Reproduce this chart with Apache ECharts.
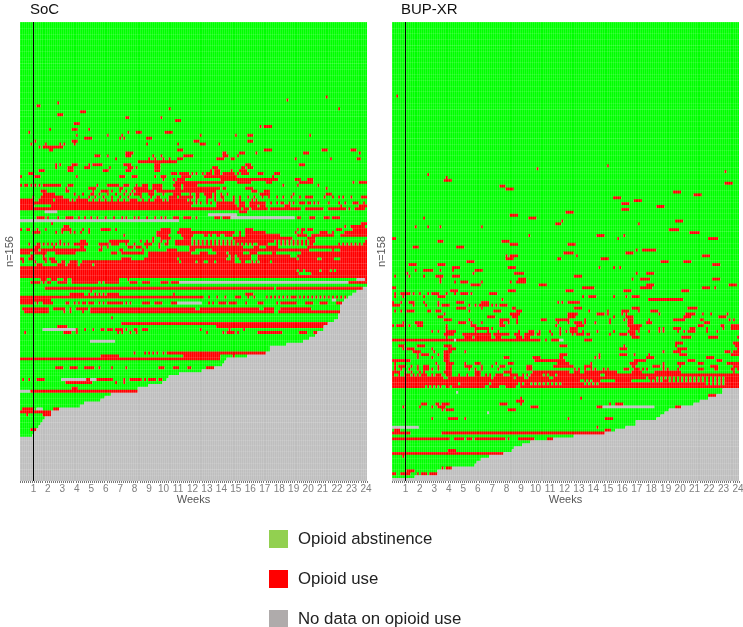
<!DOCTYPE html>
<html>
<head>
<meta charset="utf-8">
<style>html,body{margin:0;padding:0;background:#fff}#chart{width:743px;height:627px}</style>
<script src="https://cdn.jsdelivr.net/npm/echarts@6/dist/echarts.min.js"></script>
</head>
<body>
<div id="chart"></div>
<script>
var dayCount = 168;
var weekLabels = ['1','2','3','4','5','6','7','8','9','10','11','12','13','14','15','16','17','18','19','20','21','22','23','24'];
var legendNames = ['Opioid abstinence','Opioid use','No data on opioid use'];
var cellColors = ['#00ff00','#ff0000','#bebebe'];

// last observed day per participant, listed from the first row that stops early
var socRows = 156;
var socFirstEarly = 90;
var socLastDay = [166,163,161,159,157,156,155,155,155,154,154,152,149,147,147,144,143,140,137,129,121,121,119,110,100,99,98,94,88,77,72,71,69,62,57,57,44,41,39,31,29,19,15,15,12,11,10,9,8,7,6,0,0,0,0,0,0,0,0,0,0,0,0,0,0,0];
var bupRows = 158;
var bupFirstEarly = 126;
var bupLastDay = [160,160,157,153,149,146,140,134,132,130,128,118,118,113,108,103,88,78,67,63,59,58,54,47,43,41,40,29,22,22,11,0];

// [row, days with opioid use]
var socUse = [
[25,'148'],[26,'129'],[27,'18'],[28,'8-9'],[29,'72 154'],[30,'29-31'],[31,'18-20'],[32,'51-52 68'],[33,'75-77'],[34,'26-28'],
[35,'116 118-121'],[36,'14 25-27 33'],[37,'4 52 56-58 70-73'],[38,'27 42 49 87 104 110-112 140'],[39,'31-34 48 50 61-63'],
[40,'7 25-27 84-86 110-112'],[41,'5 12 19 21 26 61 76 87-89 96'],[42,'9 11-20'],[43,'14-15 76-78 118-121 146-148 160-162'],
[44,'51-54 98-99 106-108 114 137-139 164'],[45,'36-38 42 51-53 64 68 79-83 98-100 105'],[46,'46 62 65 69 72 76-78 95-98 102-103 133 150 163-164'],
[47,'57-75'],[48,'17 19 25-27 33 35-39 50-53 65-67 109-111 135-137'],[49,'17 23-25 31-33 43 52-54 56 65-67 93-95 107-108 110-112'],
[50,'9-11 23-25 40-42 51-53 65-67 92 94-96 102 106-109'],[51,'4-6 73-75 77-81 83 85 88 90-92 94-96 98-103 105 107-110 115-117 123-125'],
[52,'0 7-9 27 48-50 54-56 65 68-70 78-82 89-104 122'],[53,'69 74 76-79 97-124 133-135 139-141'],
[54,'75-98 105-107 108-111 119-121 135-138 139-141 161 164-167'],[55,'0 2-3 5 7 9 11-19 23-25 37 42-47 50-52 56 59-61 64-68 74-77 79-85 127 134 144'],
[56,'22 33-36 48-49 55-61 64-68 75-77 79-96 98-99 109-112 148'],[57,'10-12 22-23 35 39-42 44 48 51 54 56-64 66-94 112-114 118-120'],
[58,'11-16 26 30 34-35 38 42 46 50 53 55-58 62-64 69 74-77 82 85-86 89-92 94 97 100 116-120 132 148-150'],
[59,'6 10-20 28 33 36 40 44 48 52 58 63 66-67 72-75 77-83 85-86 90-92 94 97-98 103 106 110 113 117 120 124 127 131 135 138-141 147 151 154 156 160 165-167'],
[60,'0-6 9-15 17-23 25 27-32 35 38 41 44 47 50 53-56 59 62 65-68 70 72-80 82 85 90 94 98 103 106 112 114'],
[61,'0-83 85 87 90 92 95-103 106-108 111-118 121 124 126-127 130 132 135-137 139-140 142 144 149 154 157 161-163 166'],
[62,'0-6 15-82 95-104 106-108 111-114 116-118 128-130 155 164-167'],[63,'0-106 108-110 112-119 121-135 138-146 149-157 159 162-166'],[64,'106-109'],
[66,'8-11 13 18 22-25 28 31 34 37 41 45 49 51 55 57 61 65 68 70 74-76 79-82 85 94-96 98-101 134-135 140-142 147-149 151-154'],
[68,'15 165-167'],[69,'21-23 157 160-166'],[70,'0 3-4 8 12 20-24 30 33 39-43 46 68-72 77-82 109-112 134 136-137 139-141 153-155 161-167'],
[71,'6-9 17 20 24 26 29 33 66-72 76-103 106 109-118 133 136 145-148 151 157-167'],[72,'50 66-71 78-83 89-90 92 95-96 99-102 106 109-125 134-138 141-151 155-167'],
[73,'64 68-72 79-82 103-131 139-142'],
[74,'19 29-31 43-52 58 61 64 68 71 75-82 84 86 88 90 92 94 96 98 100 102 104-122 124 126 128 130 132 134 136 138 140-142 167'],
[75,'4 8-9 11 13 15 17 19 21 23 26-32 38-42 44-47 51 55 60-63 67 70-71 75-82 84 86 88 90 92 94 96 98 100 102 104 106 108 110 112 115-119 124 126 128 130 132 134 136 138 140-141 154 156 158 160 162 164 166-167'],
[76,'7-9 16 29-30 39 42 52-54 56-58 61 67 82-107 113-115 119-124 139-167'],[77,'0-8 10-31 38-39 48-49 59 71-75 82-84 93-139 151 155-167'],
[78,'0-4 7-12 17-26 44-46 49-59 62-82 87-90 95-99 101-107 111-114 122-123 136-167'],[79,'5-6 11 62-100 102-103 105-111 115-130 134-167'],
[80,'0-1 4-6 11-12 14-16 49-53 60-75 77-99 102-103 106-111 115-133 135-143 146-151 155-167'],
[81,'1 7 12 15-17 20-21 24-27 30-76 78-82 83-84 86-88 91-93 95-103 107-108 112 114 116-120 122-167'],[82,'8-10 18-21 23-27 29-34 36-167'],
[83,'0-167'],[84,'0-133 135-136 138-144 146-149 151 153-167'],[85,'0-134 141-167'],[86,'0-167'],[87,'10-12 15-17 21-22 25-47 52 167'],
[88,'5-9 11 13-14 18-22 25-37 39 41-47 53-56 59-62 68-71 73-76 159-167'],[90,'12-122 124-165'],[91,'34'],[92,'24-30 33 36 38 40 42-47 74 109-112'],
[93,'0-88 91 95 99 104-106 110 113 119 121 123 125 127 129 131-133 135 137 139 141 143 145 147 149 151 153 155 157'],[94,'0-14'],
[95,'0-6 8 11-15 22-23 26 28 30-31 33-35 38 40 42-49 51 53 59-62 65-68 73-75 91 93 96-99 101-104 109 115-117 124 126-133 138-141 145-148 153-155'],
[97,'1-13 16-21 24 27-32 34-84 87-115 118-122 126-140'],[98,'2-13 21 24 30 34-122 125-154'],[100,'44'],[102,'49-148'],[103,'18-22 95-146'],
[104,'27 31 35 39-40 42-44 46-49 51 55-56 59-61 87 101 108'],[105,'2 21-24 27 47 49 53 56 90 98 100-103 105 115-126 135-138 142-143'],
[112,'55 60 62 64 66 69 71-118'],[113,'39-47 79-96 103'],[114,'0-96'],[117,'17-20 24-27 31-35 38 44 51 67-69 74-76 81-82 90-93'],
[121,'1 4 8-11 32-33 37-44 50 53-58 60 62-65 67-68'],[122,'22-34 46 50'],[124,'25-27'],[125,'5-56'],[131,'1-6 16-18'],[132,'0-14'],[133,'3 11-14'],[138,'5-7']
];
// [row, days without data although the participant was still enrolled]
var socMissing = [
[64,'12-17'],[65,'91-104'],[66,'102-132'],[67,'0-76'],[87,'163-166'],[88,'77-158'],[94,'151-152'],[95,'76-87'],[104,'11-26'],[108,'34-45'],[121,'20-31 34-36'],[125,'0-4'],[131,'8-10']
];
var bupUse = [
[25,'2'],[49,'104'],[50,'70'],[51,'161'],[52,'17'],[53,'26'],[54,'25-28'],[55,'161-164'],[56,'52-54'],[57,'55-58'],[58,'136-139'],[59,'146-149'],
[60,'107-110'],[61,'117-120'],[62,'111-114'],[63,'128-131'],[64,'111-114'],[65,'84-87'],[66,'57-60'],[67,'15 66-69'],[68,'82 137-140'],[69,'79-81 119'],
[70,'11 17 23 43'],[71,'134-138'],[72,'144-148'],[73,'66 99-102 112'],[74,'0-1 109 153-157'],[75,'22-24 53-56'],[76,'57-60 85-88'],[77,'10-12 31-34'],
[78,'118 121-127'],[79,'83-87 113-116'],[80,'55 57-60 89 150-153'],[81,'55-58 80-81 101-104'],[82,'36-39 130-133 141-144'],[83,'8-11 22-25 155-158'],
[84,'29-32 56-59 100 107 110'],[85,'11 15-19 23 29 40-43'],[86,'7 39 59-63 118 123-126'],[87,'1 8 15 21-24 29-32 88-91'],[88,'23 61-64 116 120-124 155-158'],
[89,'23 30 33-36 43 57 60-64'],[90,'38-42 71-74 123-126 163-166'],[91,'0-1 92-97 120-125 150-153 156'],[92,'28-31 56-59 84-87 112-115 140-143'],
[93,'1 4-8 10 13 17 19-22 26 30 33-36 38 47-50'],[94,'1 5 15 22-25 92 95-98 107 113 116-119'],[95,'53 124-140'],[96,'0 4 8-10 15 22 31-34 43-46 80 82 85-90'],
[97,'0-3 10 16 22 24-27 37 40 42-46 48 50 52-55'],[98,'31-35 43 58-59 88-91 116-119 143-147'],[99,'1 4 7-10 17-18 21-23 37 49-52 60-62 95 104 111-114 119 125-128'],
[100,'25 57-61 85-89 99-102 104 111 113 129 142-146 150 154 162'],[101,'22-24 46-49 58-60 85-88 107 113-116 141-144 158-161'],
[102,'25-28 37 52-56 60 72-74 79-85 93 105 112 114-116 124 136-141 149-150 163 165'],[103,'5 11-14 32-35 38 43 52-53 56 60 80 85 88-91 93 98 105 114-116 123-125 151-153'],
[104,'0 2-5 8 12-14 26 38-40 52-54 79 89-92 114-120 148-150 159-160 164-167'],[105,'26 40-46 48 81 86-89 115-119 129 131 136-139 144-146 152 160 164-167'],
[106,'19 22 26-30 40 46 51 61 66-68 71 76 81 84 86-89 92 99 107 114-117 119 124 129 131 138 141 143-146 152 157'],
[107,'25-29 34-47 49-56 59-61 64-68 70-71 77 81 87 89-92 94-95 105 110-113 115-117'],[108,'26 35-38 40-47 50-52 60-62 64-66 116-119 140-144 153-157 167'],
[109,'0-29 31-71 74 77-80 93-96'],[110,'137-140 165-167'],[111,'3-5 12-15 25-28 81-84 112 137 166-167'],[112,'5 7-10 19 27-30 110-113 138-142 167'],
[113,'10-13 20 25-28 35 131 136-139 161-163 165-167'],[114,'12 14-17 22 25-27 81-84 100 110-113 117 124 139-142 164-167'],
[115,'12 19 25-27 54-56 68-71 81-82 98 100 123-126 152-155'],[116,'0-8 25-27 69-83 117-122 143-146 157-159'],
[117,'1 21 26-29 35 40-42 50 56-58 80-85 96 115-118 131 138-141 148-150 162-167'],
[118,'1 3-6 9 12 15-17 22 26-28 35-38 43 48 52-54 65-67 78-87 93-96 116-117 126-129 131 139 154-157 165-167'],
[119,'1 4 8 12 15-17 19 22 26-28 37 40 43 51 57 65-67 88 90 93 96 98 102 104 112-114 117-119 121 123 131 133 138 148-150 156-157 164-165 167'],
[120,'0-3 6 9 13 15 25-28 40-42 54-57 68-85 88-90 93-108 116-120 127-139 165'],
[121,'0 3 6-8 10 12 14-16 19 21-23 26-28 32 36 40-42 45 47 50-53 57-60 63 65 67-72 74 76-78 80-100 103-167'],
[122,'0-24 27-47 49-58 60-63 66-75 78-122 124-127 129 131 133 135 137 139 141 143 145 147 149 151 153 155 157 159 161-167'],
[123,'0-90 93 95 97-100 108-115 125 127 129 131-133 135 137 139 141 143 145 147 149 151 153 155 157 159 161-167'],
[124,'0-31 33-46 48-60 62 64-66 68 70 72 74 76 78 80 82-92 94 96 98 100-150 151 153 155 157 159 161-167'],
[125,'0-15 17 19 21 23 26-27 29-44 47-51 55-59 62-167'],[128,'153-156'],[129,'62 91'],[130,'60-63'],[131,'14-16 21-22 24-27 52-55 62 105 108-111'],
[132,'5 13 19 22-25 67-70 99-101 137-139'],[133,'24 26-29 56-59'],[136,'19 27-31 35 85 103-106'],[139,'99'],[140,'1-3 103-105'],[141,'0-8 24-102'],
[143,'0-27 30-34 36-38 40-47 48-54 56 61-68 75-77'],[147,'27-30'],[148,'0-53'],[149,'5'],[153,'24 26-28'],[154,'7-10'],[155,'0-1 4-8 12 14-16 18-21']
];
var bupMissing = [[109,'30 81-82'],[127,'31'],[132,'102-126'],[134,'46'],[139,'0-12']];

var days = [];
for(var d=1;d<=dayCount;d++){ days.push(d); }

function markDays(grid, list, code){
	list.forEach(function(item){
		item[1].split(' ').forEach(function(span){
			var ends = span.split('-');
			var from = +ends[0], to = +ends[ends.length-1];
			for(var i=from;i<=to && i<dayCount;i++){ grid[item[0]][i] = code; }
		});
	});
}

// 0 abstinence, 1 use, 2 no data. Same-status neighbours are merged into one run: [firstDay, row, lastDay, status]
function buildRuns(rows, firstEarly, lastDay, missing, use){
	var grid = [];
	for(var r=0;r<rows;r++){
		var last = r < firstEarly ? dayCount : lastDay[r-firstEarly];
		var line = [];
		for(var c=0;c<dayCount;c++){ line.push(c < last ? 0 : 2); }
		grid.push(line);
	}
	markDays(grid, missing, 2);
	markDays(grid, use, 1);
	var runs = [];
	for(var y=0;y<rows;y++){
		var start = 0;
		for(var x=1;x<=dayCount;x++){
			if(x === dayCount || grid[y][x] !== grid[y][start]){
				runs.push([start,y,x-1,grid[y][start]]);
				start = x;
			}
		}
	}
	return runs;
}

function rowNames(rows){
	var names = [];
	for(var r=0;r<rows;r++){ names.push(r); }
	return names;
}

function xAxisFor(gridIndex){
	return {
		type:'category', gridIndex:gridIndex, data:days,
		name:'Weeks', nameLocation:'middle', nameGap:13, nameMoveOverlap:false,
		nameTextStyle:{fontFamily:'Liberation Sans',fontSize:11,color:'#555'},
		axisLine:{show:false},
		axisTick:{show:true,interval:0,length:2,lineStyle:{color:'#777',width:1}},
		axisLabel:{
			interval:function(i){ return (i+1)%7===0; },
			formatter:function(v){ return weekLabels[v/7-1]; },
			fontFamily:'Liberation Sans',fontSize:10,color:'#808080',margin:3,hideOverlap:false
		},
		splitLine:{show:true,interval:0,lineStyle:{color:'rgba(255,255,255,0.14)',width:1}},
		z:3
	};
}

function yAxisFor(gridIndex, rows){
	return {
		type:'category', gridIndex:gridIndex, data:rowNames(rows), inverse:true,
		name:'n='+rows, nameLocation:'middle', nameGap:5, nameRotate:90,
		nameTextStyle:{fontFamily:'Liberation Sans',fontSize:11,color:'#555'},
		axisLine:{show:false},axisTick:{show:false},axisLabel:{show:false},
		splitLine:{show:true,interval:1,lineStyle:{color:'rgba(255,255,255,0.1)',width:1}},
		z:3
	};
}

function renderRun(params, api){
	var from = api.coord([api.value(0),api.value(1)]);
	var size = api.size([1,1]);
	return {
		type:'rect',
		shape:{
			x:from[0]-size[0]/2,
			y:from[1]-size[1]/2,
			width:size[0]*(api.value(2)-api.value(0)+1),
			height:size[1]+0.6
		},
		style:{fill:cellColors[api.value(3)]}
	};
}

function runSeries(gridIndex, runs){
	return {
		type:'custom', xAxisIndex:gridIndex, yAxisIndex:gridIndex, data:runs,
		renderItem:renderRun, encode:{x:0,y:1}, clip:true,
		progressive:0, animation:false, silent:true,
		markLine:{
			silent:true, symbol:'none', animation:false, label:{show:false},
			lineStyle:{color:'#000',width:1,type:'solid'},
			data:[{xAxis:6}]
		}
	};
}

function legendSeries(name, color){
	return {name:name, type:'bar', xAxisIndex:0, yAxisIndex:0, data:[], itemStyle:{color:color}};
}

var chart = echarts.init(document.getElementById('chart'), null, {renderer:'canvas'});
chart.setOption({
	animation:false,
	backgroundColor:'#fff',
	title:[
		{text:'SoC',left:30,top:2,padding:0,textStyle:{fontFamily:'Liberation Sans',fontSize:15,fontWeight:'normal',color:'#111'}},
		{text:'BUP-XR',left:401,top:2,padding:0,textStyle:{fontFamily:'Liberation Sans',fontSize:15,fontWeight:'normal',color:'#111'}}
	],
	grid:[
		{left:20,top:22,width:347,height:459,outerBoundsMode:'none'},
		{left:392,top:22,width:347,height:459,outerBoundsMode:'none'}
	],
	xAxis:[xAxisFor(0),xAxisFor(1)],
	yAxis:[yAxisFor(0,socRows),yAxisFor(1,bupRows)],
	legend:{
		orient:'vertical', left:269, top:530, height:110, padding:0, itemWidth:19, itemHeight:18, itemGap:22,
		icon:'rect', selectedMode:false, data:legendNames,
		textStyle:{fontFamily:'Liberation Sans',fontSize:16.8,color:'#222',padding:[0,0,0,5]},
		itemStyle:{borderWidth:0}
	},
	series:[
		runSeries(0, buildRuns(socRows,socFirstEarly,socLastDay,socMissing,socUse)),
		runSeries(1, buildRuns(bupRows,bupFirstEarly,bupLastDay,bupMissing,bupUse)),
		legendSeries(legendNames[0],'#92d050'),
		legendSeries(legendNames[1],'#ff0000'),
		legendSeries(legendNames[2],'#afabab')
	]
});
</script>
</body>
</html>
